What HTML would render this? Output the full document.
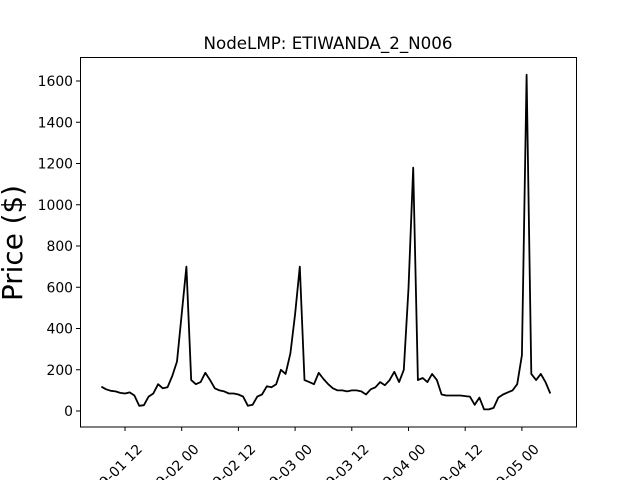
<!DOCTYPE html>
<html><head><meta charset="utf-8"><style>
html,body{margin:0;background:#fff;width:640px;height:480px;overflow:hidden;}
svg{display:block;overflow:hidden;font-family:"DejaVu Sans","Liberation Sans",sans-serif;}
</style></head><body>
<svg id="chart" width="640" height="480" viewBox="0 0 640 480">
<rect x="0" y="0" width="640" height="480" fill="#fff"/>
<text x="328" y="49" text-anchor="middle" font-size="16.7">NodeLMP: ETIWANDA_2_N006</text>
<text transform="translate(22,243) rotate(-90)" text-anchor="middle" font-size="27.8">Price ($)</text>
<g id="yticks"></g><g id="xticks"></g>
<path id="series" fill="none" stroke="#000" stroke-width="1.8" stroke-linejoin="round"/>
<rect x="80.5" y="57.5" width="496" height="369.5" fill="none" stroke="#000" stroke-width="1"/>
</svg>
<script>
const prices=[118,105,98,95,88,85,90,75,25,28,70,85,130,110,115,170,240,470,700,150,130,140,185,150,
110,100,95,85,85,80,70,25,30,70,80,120,115,130,200,180,280,470,700,150,140,130,185,155,
130,110,100,100,95,100,100,95,80,105,115,140,125,150,190,140,200,595,1180,150,160,140,180,150,
80,75,75,75,75,72,70,30,65,8,8,15,65,80,90,100,130,270,1630,180,150,180,140,85];
const startHour=7;
const yTicks=[0,200,400,600,800,1000,1200,1400,1600];
const xTickHours=[12,24,36,48,60,72,84,96];
const xTickLabels=["2022-09-01 12","2022-09-02 00","2022-09-02 12","2022-09-03 00","2022-09-03 12","2022-09-04 00","2022-09-04 12","2022-09-05 00"];

const NS="http://www.w3.org/2000/svg";
function X(h){return 125+(h-12)*56.7/12;}
function Y(v){return 411-v*0.20625;}
let d="";
prices.forEach((p,i)=>{d+=(i?"L":"M")+X(startHour+i).toFixed(1)+","+Y(p).toFixed(1);});
document.getElementById('series').setAttribute('d',d);
const yg=document.getElementById('yticks');
yTicks.forEach(v=>{
 const l=document.createElementNS(NS,'line');
 l.setAttribute('x1',76);l.setAttribute('x2',80);l.setAttribute('y1',Y(v));l.setAttribute('y2',Y(v));l.setAttribute('stroke','#000');
 
 
 yg.appendChild(l);
 const t=document.createElementNS(NS,'text');
 t.setAttribute('x',73);t.setAttribute('y',Y(v)+5);t.setAttribute('text-anchor','end');t.setAttribute('font-size','13.9');
 t.textContent=v;
 
 
 yg.appendChild(t);
});
const xg=document.getElementById('xticks');
xTickHours.forEach((h,i)=>{
 const x=X(h);
 const l=document.createElementNS(NS,'line');
 l.setAttribute('x1',x);l.setAttribute('x2',x);l.setAttribute('y1',427);l.setAttribute('y2',431);l.setAttribute('stroke','#000');
 
 
 xg.appendChild(l);
 const t=document.createElementNS(NS,'text');
 t.setAttribute('transform','translate('+(x+18)+',450) rotate(-45)');
 t.setAttribute('text-anchor','end');t.setAttribute('font-size','13.9');
 t.textContent=xTickLabels[i];
 
 
 xg.appendChild(t);
});
</script>
</body></html>
